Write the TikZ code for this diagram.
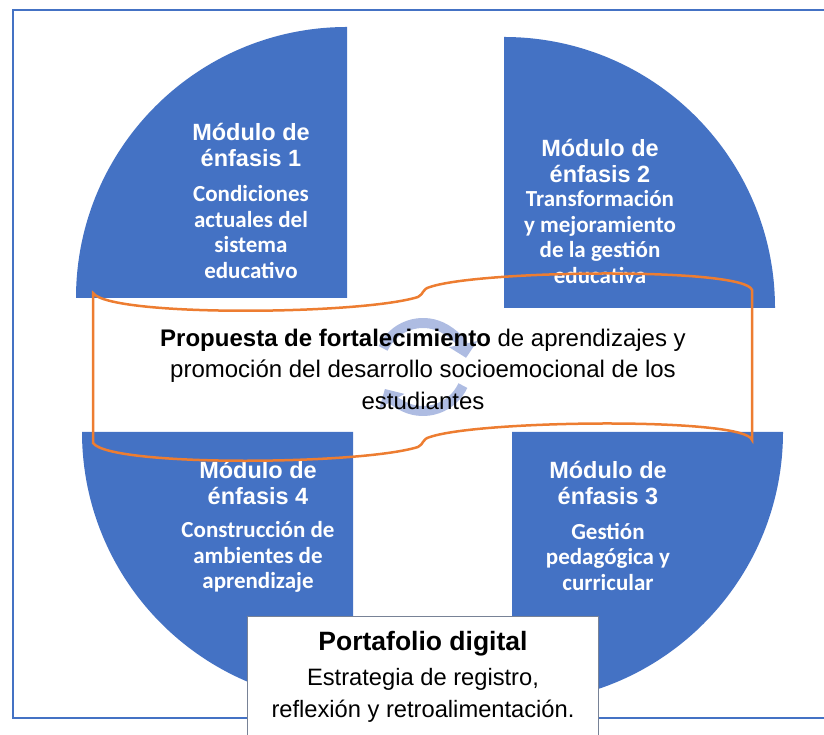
\documentclass[tikz,border=0pt]{standalone}
\usepackage{fontspec}
\setmainfont{Liberation Sans}
\newfontfamily\calibri{Carlito}
\usetikzlibrary{arrows.meta}
\begin{document}
\begin{tikzpicture}[x=1pt,y=1pt,
  modtitle/.style={text=white,font=\bfseries\fontsize{23.5}{26}\selectfont,align=center},
  modtext/.style={text=white,font=\calibri\bfseries\fontsize{23}{25.5}\selectfont,align=center},
  cyclearrow/.style={cyclecolor,line width=10,-{Triangle[length=14pt,width=28pt]}}]
\pgfmathsetmacro\rad{271};
\definecolor{modblue}{RGB}{68,114,196}
\definecolor{waveorange}{RGB}{237,125,49}
\definecolor{cyclecolor}{RGB}{174,188,226}
\definecolor{boxgray}{RGB}{120,130,150}
\useasboundingbox (0,0) rectangle (824,735);
\draw[modblue, line width=2] (13,17) rectangle (830,725);
% four quarter circles
\foreach \cx/\cy/\a in {347/437/180, 504/427/90, 512/303/0, 353/303/270}
  \fill[modblue] (\cx,\cy) -- ++(\a:\rad) arc[start angle=\a, delta angle=-90, radius=\rad] -- cycle;
\node[modtitle] (titulo1) at (251,590) {Módulo de\\énfasis 1};
\node[modtext] (texto1) at (251,503) {Condiciones\\actuales del\\sistema\\educativo};
\node[modtitle] (titulo2) at (600,574) {Módulo de\\énfasis 2};
\node[modtext] (texto2) at (600,498) {Transformación\\y mejoramiento\\de la gestión\\educativa};
\node[modtitle] (titulo4) at (258,252) {Módulo de\\énfasis 4};
\node[modtext] (texto4) at (258,178) {Construcción de\\ambientes de\\aprendizaje};
\node[modtitle] (titulo3) at (608,252) {Módulo de\\énfasis 3};
\node[modtext] (texto3) at (608,178) {Gestión\\pedagógica y\\curricular};
% cycle in the middle
\coordinate (ciclo) at (423,368);
\draw[cyclearrow] (ciclo) ++(155:44) arc[start angle=155, end angle=12, radius=44];
\draw[cyclearrow] (ciclo) ++(-25:44) arc[start angle=-25, end angle=-150, radius=44];
% wave
\draw[waveorange, line width=2.5] (93,442) .. controls (110,418) and (360,420) .. (418,438)
  .. controls (424,441) and (422,446) .. (430,448) .. controls (480,465) and (745,468) .. (752,445)
  -- (752,295) .. controls (745,318) and (480,315) .. (430,298)
  .. controls (422,296) and (424,291) .. (418,288) .. controls (360,270) and (110,268) .. (93,292) -- cycle;
\node[font=\fontsize{24}{31.5}\selectfont, align=center] (propuesta) at (423,366)
  {\textbf{Propuesta de fortalecimiento} de aprendizajes y\\promoción del desarrollo socioemocional de los\\estudiantes};
% portafolio box
\node[draw=boxgray, fill=white, line width=1, minimum width=351, minimum height=140, anchor=north] (portafolio) at (422.5,119) {};
\node[font=\fontsize{23.7}{32}\selectfont, align=center] (portafoliotxt) at (423,58)
  {{\bfseries\fontsize{26.5}{32}\selectfont Portafolio digital}\\[3pt]Estrategia de registro,\\reflexión y retroalimentación.};
\end{tikzpicture}
\end{document}
